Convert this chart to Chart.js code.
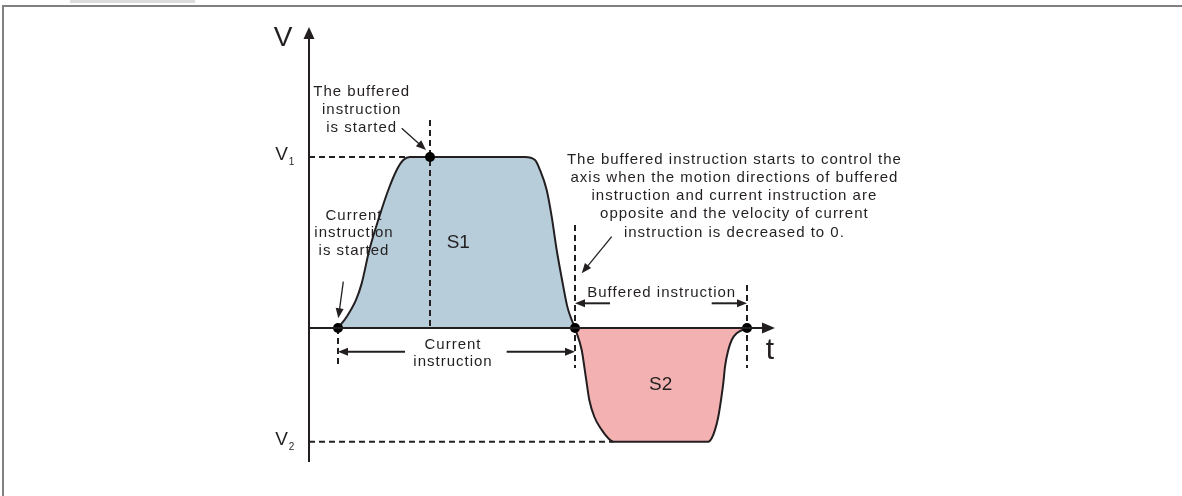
<!DOCTYPE html>
<html>
<head>
<meta charset="utf-8">
<script src="https://cdn.jsdelivr.net/npm/chart.js@4"></script>
<style>
  html, body { margin: 0; padding: 0; background: #ffffff; }
  #wrap { position: relative; width: 1182px; height: 496px; overflow: hidden; }
  #tab { position: absolute; left: 70px; top: 0; width: 125px; height: 3px; background: #dcdcdc; }
  #frameTop { position: absolute; left: 2px; top: 5px; width: 1180px; height: 2px; background: #808080; }
  #frameLeft { position: absolute; left: 2px; top: 5px; width: 2px; height: 491px; background: #808080; }
  canvas { position: absolute; left: 0; top: 0; }
</style>
</head>
<body>
<div id="wrap">
  <div id="tab"></div>
  <div id="frameTop"></div>
  <div id="frameLeft"></div>
  <canvas id="c" width="1182" height="496"></canvas>
</div>
<script>
// ---- Data (time t in arbitrary units, velocity v relative to V1) ----
const V1 = 1;
const V2 = -0.665;

// Current instruction velocity profile (S1)
const currentT = [2.9, 3.77, 4.70, 5.27, 6.03, 7.03, 7.93, 8.77, 9.43, 10.1, 21.6, 22.6, 23.1, 23.77, 24.27, 24.77, 25.37, 25.83, 26.27, 26.6];
const currentV = [0, 0.066, 0.164, 0.261, 0.456, 0.651, 0.807, 0.924, 0.982, 1, 1, 0.982, 0.924, 0.807, 0.651, 0.456, 0.261, 0.125, 0.047, 0];

// Buffered instruction velocity profile (S2)
const bufferedT = [26.6, 27.27, 27.53, 27.77, 28.03, 28.53, 29.27, 29.93, 30.43, 39.93, 40.27, 40.6, 40.93, 41.2, 41.43, 41.6, 41.93, 42.27, 42.77, 43.77];
const bufferedV = [0, -0.129, -0.226, -0.323, -0.421, -0.519, -0.596, -0.645, -0.665, -0.665, -0.645, -0.596, -0.519, -0.421, -0.323, -0.226, -0.129, -0.070, -0.031, 0];

// Key event points
const eventT = [2.9, 12.1, 26.6, 43.8];
const eventV = [0, 1, 0, 0];

// Labels
const areaLabels = ["S1", "S2"];
const axisLabels = ["V", "t"];
const levelLabels = ["1", "2"];
const noteBufferedStart = ["The buffered", "instruction", "is started"];
const noteCurrentStart = ["Current", "instruction", "is started"];
const noteControl = [
  "The buffered instruction starts to control the",
  "axis when the motion directions of buffered",
  "instruction and current instruction are",
  "opposite and the velocity of current",
  "instruction is decreased to 0."
];
const spanCurrent = ["Current", "instruction"];
const spanBuffered = ["Buffered instruction"];

// ---- Styles ----
const INK = '#231f20';
const BLUE = '#b7cdd9';
const RED = '#f3b1b1';
const FONT = '"Liberation Sans", Arial, sans-serif';

function xy(ts, vs) { return ts.map((t, i) => ({ x: t, y: vs[i] })); }
function seg(t0, v0, t1, v1) { return [{ x: t0, y: v0 }, { x: t1, y: v1 }]; }

const dashStyle = { borderColor: INK, borderWidth: 2, borderDash: [6, 4], pointRadius: 0, showLine: true, fill: false, order: 3 };

const datasets = [
  { label: 'S1', data: xy(currentT, currentV), showLine: true, fill: 'origin', backgroundColor: BLUE,
    borderColor: INK, borderWidth: 2, pointRadius: 0, cubicInterpolationMode: 'monotone', order: 5 },
  { label: 'S2', data: xy(bufferedT, bufferedV), showLine: true, fill: 'origin', backgroundColor: RED,
    borderColor: INK, borderWidth: 2, pointRadius: 0, cubicInterpolationMode: 'monotone', order: 5 },
  Object.assign({ label: 'V1 level', data: seg(0, V1, currentT[9], V1) }, dashStyle),
  Object.assign({ label: 'V2 level', data: seg(0, V2, bufferedT[8], V2) }, dashStyle),
  Object.assign({ label: 'buffer start', data: seg(eventT[1], 1.216, eventT[1], 0) }, dashStyle),
  Object.assign({ label: 'current start', data: seg(eventT[0], 0, eventT[0], -0.234) }, dashStyle),
  Object.assign({ label: 'switch', data: seg(eventT[2], 0.602, eventT[2], -0.234) }, dashStyle),
  Object.assign({ label: 'buffer end', data: seg(eventT[3], 0.251, eventT[3], -0.234) }, dashStyle),
  { label: 'events', data: xy(eventT, eventV), showLine: false, pointRadius: 5, pointHoverRadius: 5,
    pointBackgroundColor: '#000', pointBorderColor: '#000', pointBorderWidth: 0, order: 0 }
];

function arrowHead(ctx, x0, y0, x1, y1, len, half) {
  const a = Math.atan2(y1 - y0, x1 - x0);
  ctx.beginPath();
  ctx.moveTo(x1, y1);
  ctx.lineTo(x1 - len * Math.cos(a) + half * Math.sin(a), y1 - len * Math.sin(a) - half * Math.cos(a));
  ctx.lineTo(x1 - len * Math.cos(a) - half * Math.sin(a), y1 - len * Math.sin(a) + half * Math.cos(a));
  ctx.closePath();
  ctx.fill();
}
function arrow(ctx, x0, y0, x1, y1, len, half, w) {
  const a = Math.atan2(y1 - y0, x1 - x0);
  ctx.lineWidth = w;
  ctx.beginPath();
  ctx.moveTo(x0, y0);
  ctx.lineTo(x1 - (len - 1) * Math.cos(a), y1 - (len - 1) * Math.sin(a));
  ctx.stroke();
  arrowHead(ctx, x0, y0, x1, y1, len, half);
}

const decor = {
  id: 'decor',
  afterDatasetsDraw(chart) {
    const ctx = chart.ctx;
    const X = v => chart.scales.x.getPixelForValue(v);
    const Y = v => chart.scales.y.getPixelForValue(v);
    ctx.save();
    ctx.strokeStyle = INK;
    ctx.fillStyle = INK;
    ctx.setLineDash([]);
    ctx.lineCap = 'butt';

    // Axes with arrow heads
    arrow(ctx, X(0), Y(-0.784), X(0), Y(1.76), 12, 5.5, 2);
    arrow(ctx, X(0), Y(0), X(46.6), Y(0), 13, 5.5, 2);

    // Span arrows
    const yc = Y(-0.1386);
    arrow(ctx, X(9.6), yc, X(eventT[0]), yc, 10, 4, 2);
    arrow(ctx, X(19.77), yc, X(eventT[2]), yc, 10, 4, 2);
    const yb = Y(0.1444);
    arrow(ctx, X(30.1), yb, X(eventT[2]), yb, 10, 4, 2);
    arrow(ctx, X(40.27), yb, X(eventT[3]), yb, 10, 4, 2);

    // Pointer arrows
    arrow(ctx, X(3.43), Y(0.271), X(2.93), Y(0.057), 10, 4, 1.3);
    arrow(ctx, X(9.27), Y(1.168), X(11.7), Y(1.041), 10, 4, 1.3);
    arrow(ctx, X(30.27), Y(0.534), X(27.27), Y(0.320), 10, 4, 1.3);

    // Texts
    ctx.textAlign = 'center';
    ctx.textBaseline = 'middle';
    function lines(arr, t, vs, size, spacing) {
      ctx.font = size + 'px ' + FONT;
      ctx.letterSpacing = spacing + 'px';
      arr.forEach((s, i) => ctx.fillText(s, X(t), Y(vs[i])));
    }
    lines(noteBufferedStart, 5.27, [1.382, 1.275, 1.168], 15, 1);
    lines(noteCurrentStart, 4.5, [0.657, 0.554, 0.450], 15, 1);
    lines(noteControl, 42.54, [0.982, 0.878, 0.772, 0.667, 0.557], 15, 1);
    lines(spanCurrent, 14.4, [-0.0994, -0.197], 15, 1);
    lines(spanBuffered, 35.27, [0.203], 15, 1);
    lines([areaLabels[0]], 14.93, [0.499], 19, 0);
    lines([areaLabels[1]], 35.17, [-0.333], 19, 0);
    lines([axisLabels[0]], -2.6, [1.696], 28, 0);
    lines([axisLabels[1]], 46.1, [-0.1345], 30, 0);

    // V1 / V2 level labels
    ctx.letterSpacing = '0px';
    ctx.font = '19px ' + FONT;
    ctx.fillText('V', X(-2.75), Y(V1 + 0.012));
    ctx.fillText('V', X(-2.75), Y(V2 + 0.012));
    ctx.font = '10px ' + FONT;
    ctx.fillText(levelLabels[0], X(-1.75), Y(V1 - 0.03));
    ctx.fillText(levelLabels[1], X(-1.75), Y(V2 - 0.03));
    ctx.restore();
  }
};

new Chart(document.getElementById('c'), {
  type: 'scatter',
  data: { datasets },
  options: {
    responsive: false,
    animation: false,
    events: [],
    layout: { padding: 0, autoPadding: false },
    plugins: { legend: { display: false }, tooltip: { enabled: false } },
    scales: {
      x: { type: 'linear', display: false, min: -30.9, max: 87.3 },
      y: { type: 'linear', display: false, min: -0.9825, max: 1.9181 }
    }
  },
  plugins: [decor]
});
</script>
</body>
</html>
